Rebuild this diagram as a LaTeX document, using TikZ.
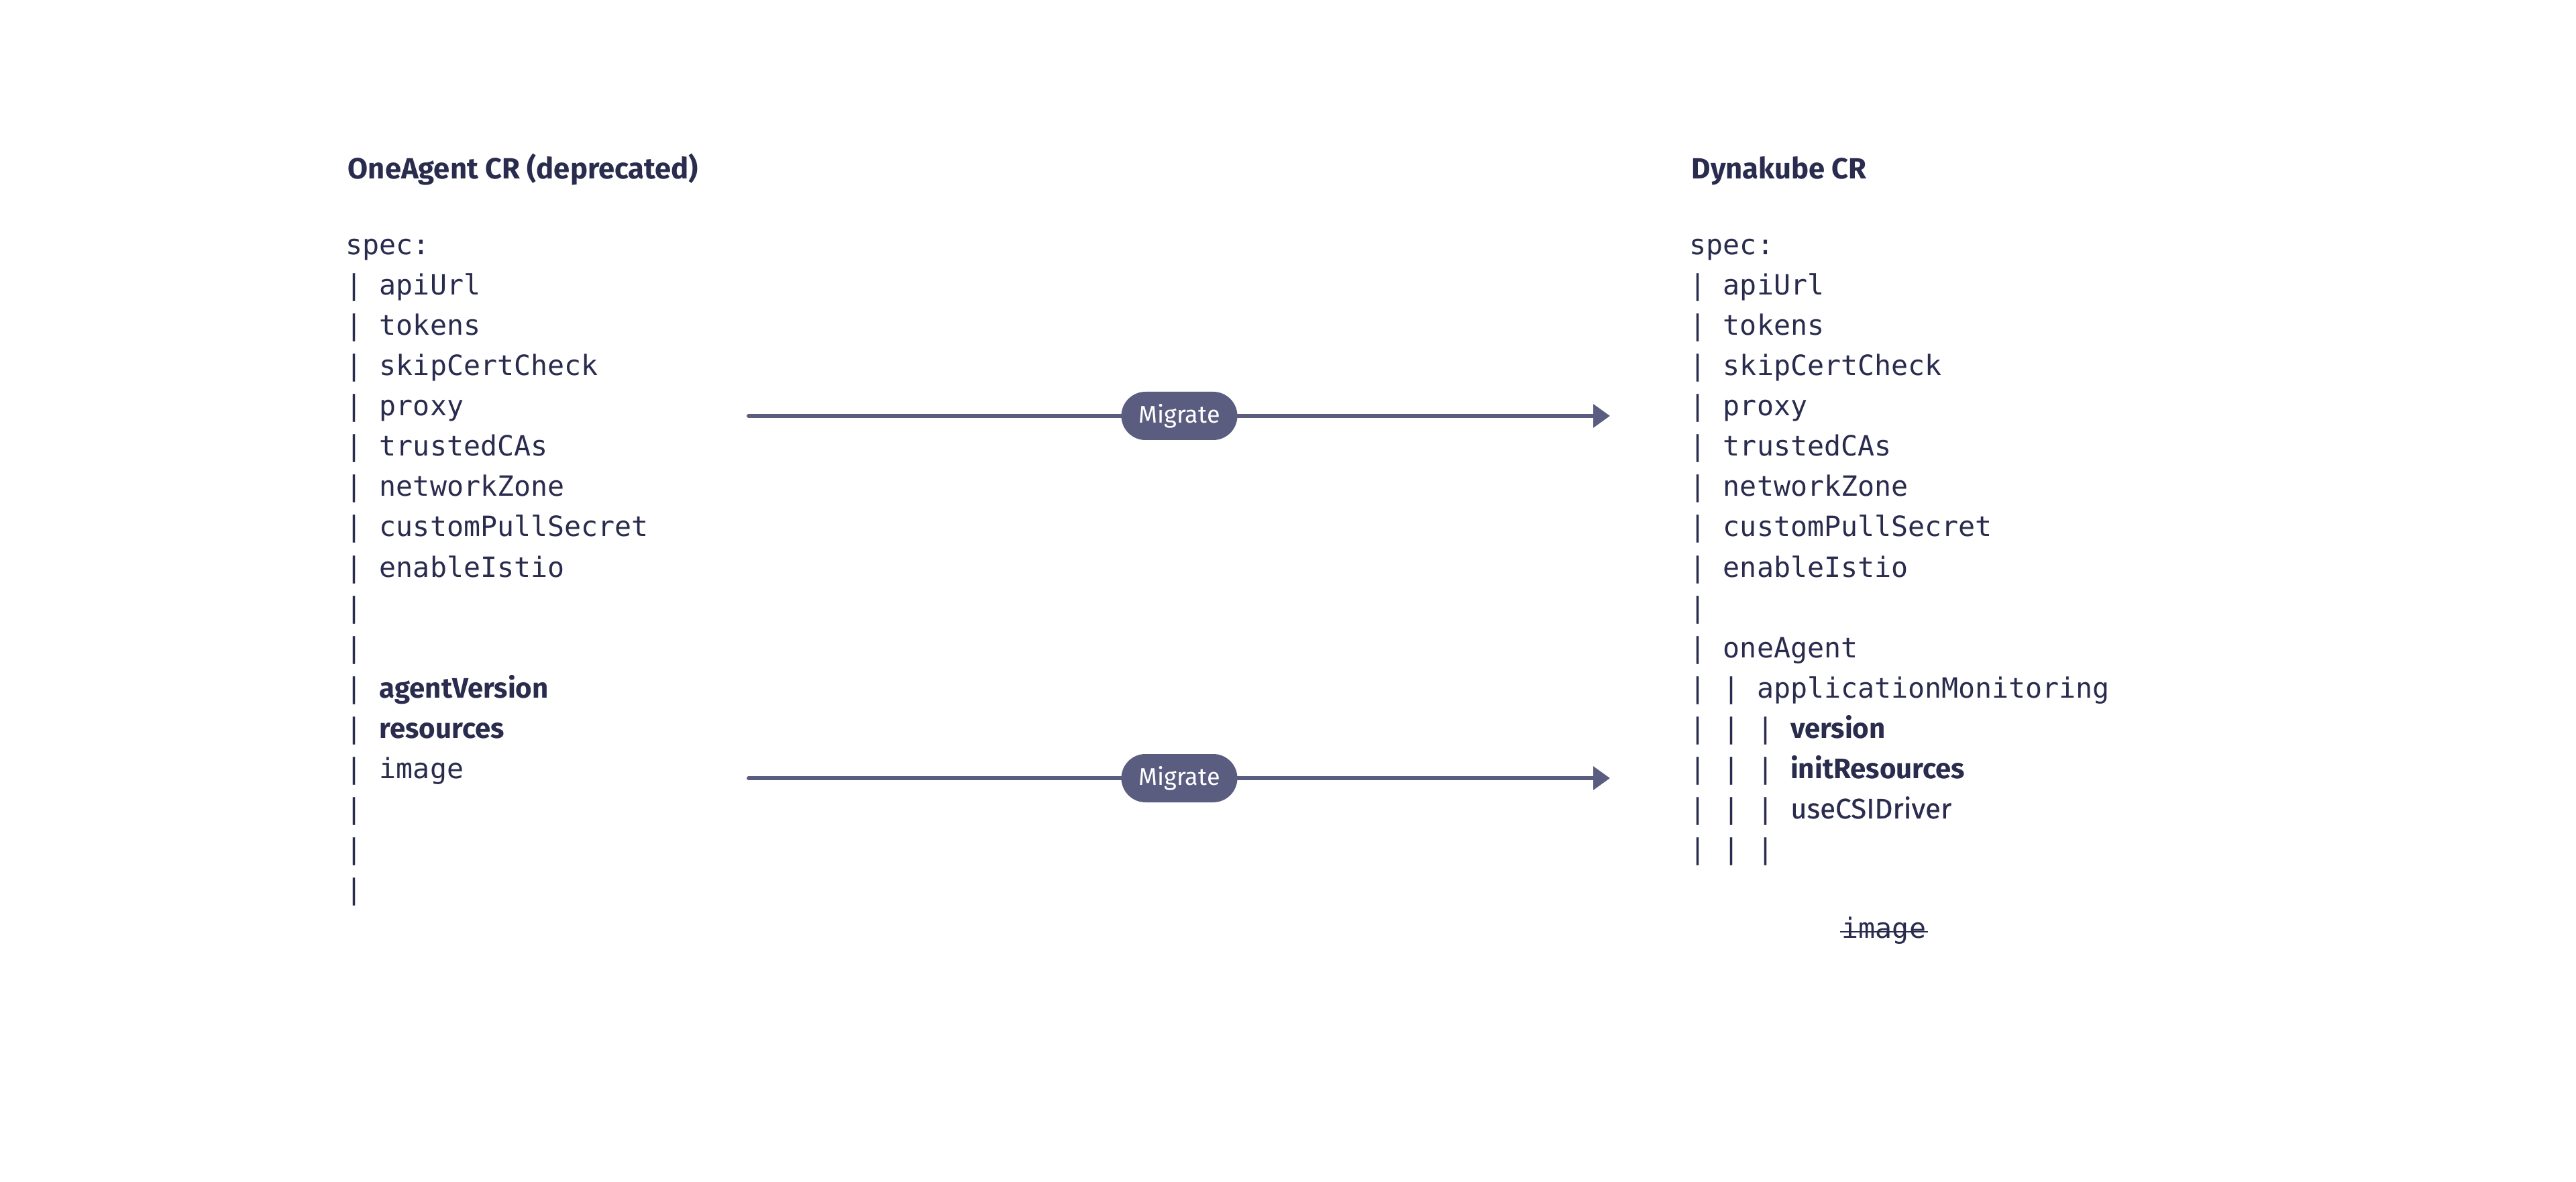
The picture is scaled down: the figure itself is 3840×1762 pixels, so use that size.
\documentclass[tikz,border=0pt]{standalone}
\usepackage{fontspec}
\setmainfont{Fira Sans}
\setsansfont{Fira Sans}
\setmonofont{DejaVu Sans Mono}
\newfontfamily\firamed{Fira Sans}[FakeBold=0.6]
\usetikzlibrary{arrows.meta,shapes.misc}
\definecolor{textc}{RGB}{42,44,78}
\definecolor{arrowc}{RGB}{91,93,128}
\tikzset{
  title/.style={anchor=base west, inner sep=0pt, text=textc, font=\fontsize{10.9pt}{13pt}\selectfont\bfseries},
  code/.style={anchor=base west, inner sep=0pt, text=textc, font=\fontsize{10.4pt}{13pt}\selectfont\ttfamily},
  migr/.style={rounded rectangle, fill=arrowc, text=white, inner sep=0pt, minimum width=43.25pt, minimum height=18pt, font=\fontsize{9pt}{11pt}\selectfont},
  conn/.style={draw=arrowc, line width=1.5pt, line cap=round, -{Triangle[length=6.25pt, width=8.5pt]}},
  strike/.style={draw=textc, line width=0.6pt}
}
\newcommand{\bsans}[1]{{\fontsize{10.5pt}{13pt}\selectfont\sffamily\bfseries #1}}
\newcommand{\msans}[1]{{\fontsize{10.5pt}{13pt}\selectfont\firamed #1}}
\begin{document}
\begin{tikzpicture}[x=0.25pt, y=-0.25pt]
\useasboundingbox[fill=white] (0,0) rectangle (3840,1762);
% left column
\node[title] (ltitle) at (518,267) {OneAgent CR (deprecated)};
\node[code] (l0) at (515,380) {spec:};
\node[code] (l1) at (515,440) {| apiUrl};
\node[code] (l2) at (515,500) {| tokens};
\node[code] (l3) at (515,560) {| skipCertCheck};
\node[code] (l4) at (515,620) {| proxy};
\node[code] (l5) at (515,680) {| trustedCAs};
\node[code] (l6) at (515,740) {| networkZone};
\node[code] (l7) at (515,800) {| customPullSecret};
\node[code] (l8) at (515,860) {| enableIstio};
\node[code] (l9) at (515,920) {|};
\node[code] (l10) at (515,980) {|};
\node[code] (l11) at (515,1040) {| \bsans{agentVersion}};
\node[code] (l12) at (515,1100) {| \bsans{resources}};
\node[code] (l13) at (515,1160) {| image};
\node[code] (l14) at (515,1220) {|};
\node[code] (l15) at (515,1280) {|};
\node[code] (l16) at (515,1340) {|};
% right column
\node[title] (rtitle) at (2521,267) {Dynakube CR};
\node[code] (r0) at (2518,380) {spec:};
\node[code] (r1) at (2518,440) {| apiUrl};
\node[code] (r2) at (2518,500) {| tokens};
\node[code] (r3) at (2518,560) {| skipCertCheck};
\node[code] (r4) at (2518,620) {| proxy};
\node[code] (r5) at (2518,680) {| trustedCAs};
\node[code] (r6) at (2518,740) {| networkZone};
\node[code] (r7) at (2518,800) {| customPullSecret};
\node[code] (r8) at (2518,860) {| enableIstio};
\node[code] (r9) at (2518,920) {|};
\node[code] (r10) at (2518,980) {| oneAgent};
\node[code] (r11) at (2518,1040) {| | applicationMonitoring};
\node[code] (r12) at (2518,1100) {| | | \bsans{version}};
\node[code] (r13) at (2518,1160) {| | | \bsans{initResources}};
\node[code] (r14) at (2518,1220) {| | | \msans{useCSIDriver}};
\node[code] (r15) at (2518,1280) {| | |};
\node[code] (img) at (2745,1398) {image};
\draw[strike] ([xshift=-0.5pt,yshift=2.25pt]img.base west) -- ([xshift=0.5pt,yshift=2.25pt]img.base east);
% arrows
\coordinate (a1s) at (1116,620);
\coordinate (a1e) at (2400,620);
\coordinate (a2s) at (1116,1160);
\coordinate (a2e) at (2400,1160);
\draw[conn] (a1s) -- (a1e);
\draw[conn] (a2s) -- (a2e);
\node[migr] (m1) at (1758,620) {Migrate};
\node[migr] (m2) at (1758,1160) {Migrate};
\end{tikzpicture}
\end{document}
